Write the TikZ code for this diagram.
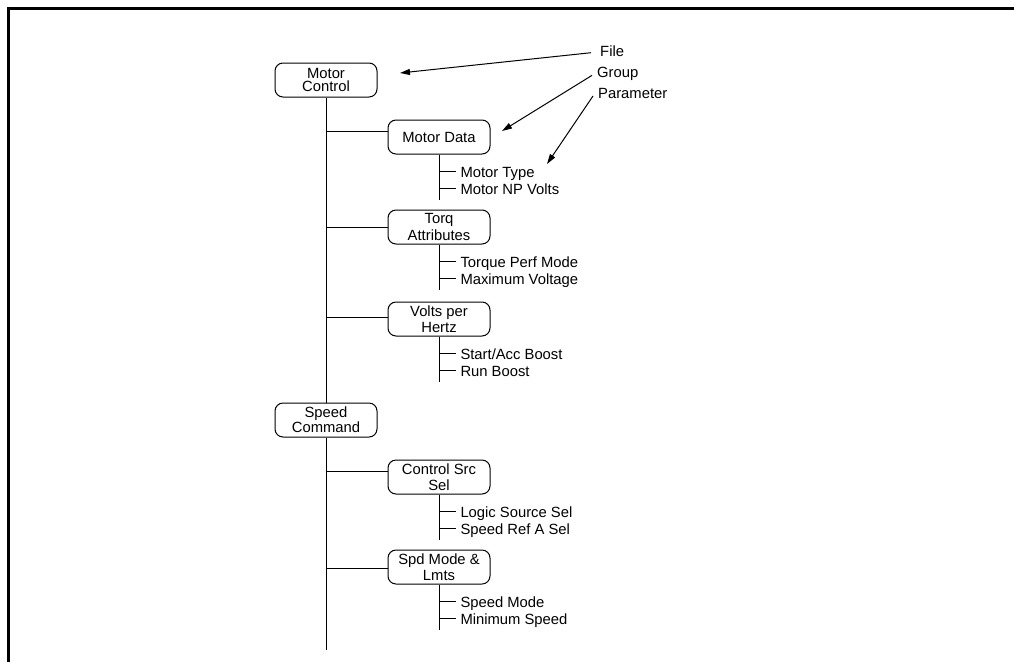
\documentclass[tikz,border=0pt]{standalone}
\usepackage{fontspec}
\setmainfont{Liberation Sans}
\usetikzlibrary{arrows.meta,positioning}

\begin{document}
\begin{tikzpicture}[x=1pt,y=-1pt,font=\fontsize{14.8}{13.5}\selectfont,
 filebox/.style={draw,line width=1pt,rounded corners=8pt,minimum width=102pt,minimum height=34pt,inner sep=0pt,align=center},
 groupbox/.style={filebox,font=\fontsize{14.8}{16.3}\selectfont},
 wire/.style={line width=1pt},
 param/.style={anchor=base west,inner sep=0pt,xshift=4pt,yshift=-5.7pt},
 tag/.style={anchor=base west,inner sep=0pt},
 >={Triangle[length=10pt,width=6pt]}]
\useasboundingbox (0,0) rectangle (1014,662);
\draw[line width=3pt] (1014,8.5) -- (8.5,8.5) -- (8.5,662);
\node[filebox] (mc) at (326,80) {Motor\\Control};
\node[groupbox] (md) at (439,137) {Motor Data};
\node[groupbox] (ta) at (439,227) {Torq\\Attributes};
\node[groupbox] (vh) at (439,319) {Volts per\\Hertz};
\node[filebox] (sc) at (326,420) {Speed\\Command};
\node[groupbox] (cs) at (439,477) {Control Src\\Sel};
\node[groupbox] (sm) at (439,567) {Spd Mode \&\\Lmts};
\coordinate (trunkend) at (326,650);
\coordinate (j1) at (326,131);
\coordinate (j2) at (326,227);
\coordinate (j3) at (326,317);
\coordinate (j4) at (326,471);
\coordinate (j5) at (326,568);
\draw[wire] (mc) -- (sc);
\draw[wire] (sc) -- (trunkend);
\draw[wire] (j1) -- (j1 -| md.west);
\draw[wire] (j2) -- (j2 -| ta.west);
\draw[wire] (j3) -- (j3 -| vh.west);
\draw[wire] (j4) -- (j4 -| cs.west);
\draw[wire] (j5) -- (j5 -| sm.west);
\draw[wire] (md.south) -- ++(0,45);
\draw[wire] (md.south) ++(0,17) -- ++(17,0) node[param] (mtype) {Motor Type};
\draw[wire] (md.south) ++(0,34) -- ++(17,0) node[param] (mvolts) {Motor NP Volts};
\draw[wire] (ta.south) -- ++(0,45);
\draw[wire] (ta.south) ++(0,17) -- ++(17,0) node[param] (tperf) {Torque Perf Mode};
\draw[wire] (ta.south) ++(0,34) -- ++(17,0) node[param] (maxv) {Maximum Voltage};
\draw[wire] (vh.south) -- ++(0,45);
\draw[wire] (vh.south) ++(0,17) -- ++(17,0) node[param] (accb) {Start/Acc Boost};
\draw[wire] (vh.south) ++(0,34) -- ++(17,0) node[param] (runb) {Run Boost};
\draw[wire] (cs.south) -- ++(0,45);
\draw[wire] (cs.south) ++(0,17) -- ++(17,0) node[param] (logsrc) {Logic Source Sel};
\draw[wire] (cs.south) ++(0,34) -- ++(17,0) node[param] (refa) {Speed Ref A Sel};
\draw[wire] (sm.south) -- ++(0,45);
\draw[wire] (sm.south) ++(0,17) -- ++(17,0) node[param] (smode) {Speed Mode};
\draw[wire] (sm.south) ++(0,34) -- ++(17,0) node[param] (minspd) {Minimum Speed};
\node[tag] (file) at (600,56) {File};
\node[tag] (group) at (597,77) {Group};
\node[tag] (parm) at (598,98) {Parameter};
\coordinate (filetip) at (400,73);
\coordinate (grouptip) at (502,131);
\coordinate (parmtip) at (547,164);
\draw[wire,->] ([xshift=-9pt,yshift=-2pt]file.west) -- (filetip);
\draw[wire,->] ([xshift=-5pt,yshift=-2pt]group.west) -- (grouptip);
\draw[wire,->] ([xshift=-5pt,yshift=-3pt]parm.west) -- (parmtip);
\end{tikzpicture}
\end{document}
